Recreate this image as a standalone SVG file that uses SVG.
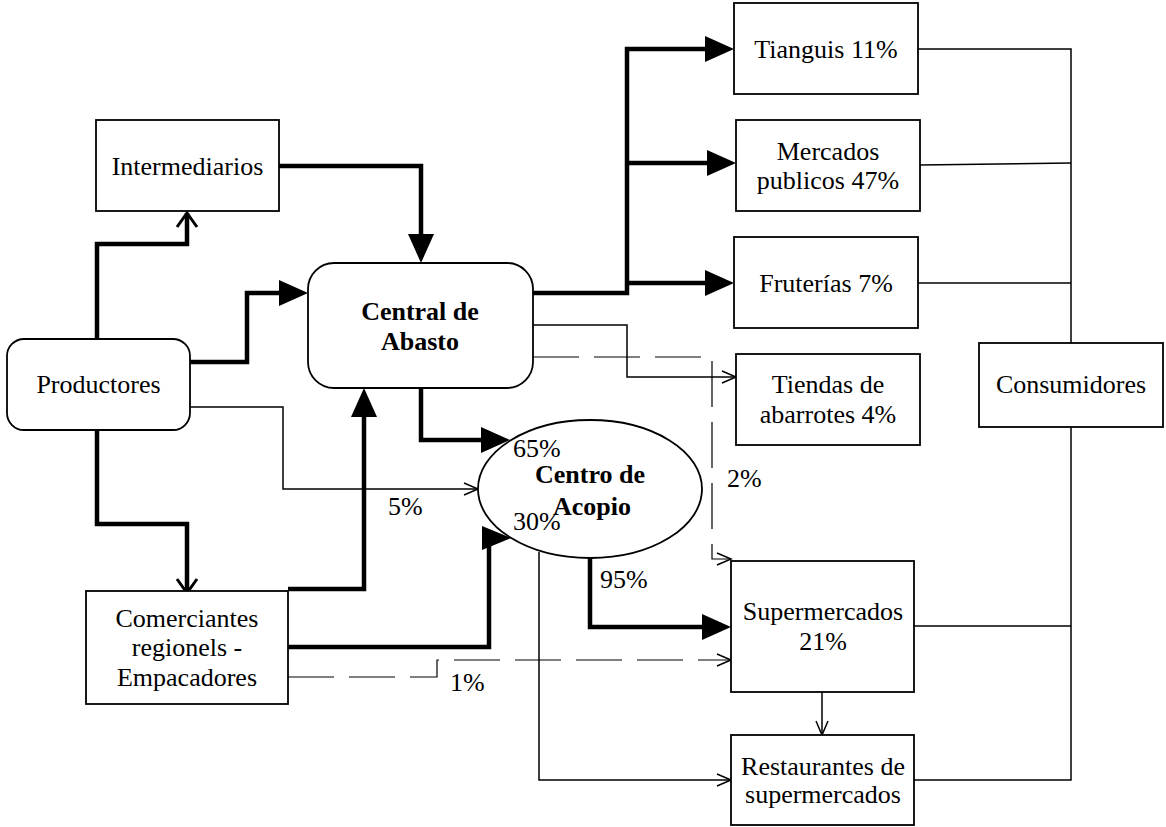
<svg xmlns="http://www.w3.org/2000/svg" width="1166" height="827" viewBox="0 0 1166 827">
<style>
.box{fill:#fff;stroke:#000;stroke-width:1.8}
.t{font-family:"Liberation Serif","Times New Roman",serif;font-size:26px;fill:#000;text-anchor:middle}
.b{font-weight:bold}
.l{font-family:"Liberation Serif","Times New Roman",serif;font-size:26px;fill:#000}
.thick{fill:none;stroke:#000;stroke-width:4.5}
.thin{fill:none;stroke:#000;stroke-width:1.5}
.dash{fill:none;stroke:#000;stroke-width:1.2;stroke-dasharray:46 15}
</style>
<defs>
<marker id="tri" markerUnits="userSpaceOnUse" markerWidth="30" markerHeight="28" refX="0" refY="13" orient="auto" overflow="visible">
<path d="M0,0 L29,13 L0,26 Z" fill="#000"/>
</marker>
<marker id="chevT" markerUnits="userSpaceOnUse" markerWidth="20" markerHeight="24" refX="14" refY="10" orient="auto" overflow="visible">
<path d="M0,0 L14,10 L0,20" fill="none" stroke="#000" stroke-width="3"/>
</marker>
<marker id="chev" markerUnits="userSpaceOnUse" markerWidth="16" markerHeight="14" refX="14" refY="6" orient="auto" overflow="visible">
<path d="M0,0 L14,6 L0,12" fill="none" stroke="#000" stroke-width="1.5"/>
</marker>
</defs>
<g id="connectors">
<path class="thick" d="M97,339 V244 H187 V213" marker-end="url(#chevT)"/>
<path class="thick" d="M190,362 H247 V293 H279" marker-end="url(#tri)"/>
<path class="thick" d="M279,166 H421 V234" marker-end="url(#tri)"/>
<path class="thick" d="M533,293 H627 V49 H705" marker-end="url(#tri)"/>
<path class="thick" d="M627,163 H707" marker-end="url(#tri)"/>
<path class="thick" d="M627,283 H705" marker-end="url(#tri)"/>
<path class="thin" d="M533,325 H627 V377 H736" marker-end="url(#chev)"/>
<path class="dash" d="M533,357 H712 V559 H731" marker-end="url(#chev)"/>
<path class="thin" d="M190,407 H283 V489 H478" marker-end="url(#chev)"/>
<path class="thick" d="M421,388 V440 H481" marker-end="url(#tri)"/>
<path class="thick" d="M97,430 V524 H187 V593" marker-end="url(#chevT)"/>
<path class="thick" d="M288,589 H364 V417" marker-end="url(#tri)"/>
<path class="thick" d="M288,647 H489 V538"/>
<polygon points="482,526 511,538 482,550" fill="#000"/>
<path class="thick" d="M590,558 V627 H702" marker-end="url(#tri)"/>
<path class="thin" d="M539,552 V780 H731" marker-end="url(#chev)"/>
<path class="dash" d="M288,677 H437 V660 H731" marker-end="url(#chev)"/>
<path class="thin" d="M822,692 V735" marker-end="url(#chev)"/>
<path class="thin" d="M918,49 H1071 V780 H914"/>
<path class="thin" d="M920,165 L1071,163"/>
<path class="thin" d="M918,283 H1071"/>
<path class="thin" d="M914,626 H1071"/>
</g>
<g id="intermediarios"><rect class="box" x="96" y="120" width="183" height="91"/><text class="t" x="187.5" y="175">Intermediarios</text></g>
<g id="productores"><rect class="box" x="7" y="339" width="183" height="91" rx="17"/><text class="t" x="98.5" y="393">Productores</text></g>
<g id="central"><rect class="box" x="308" y="263" width="225" height="125" rx="26"/><text class="t b" x="420" y="320">Central de</text><text class="t b" x="420" y="350">Abasto</text></g>
<g id="tianguis"><rect class="box" x="734" y="3" width="184" height="91"/><text class="t" x="826" y="58">Tianguis 11%</text></g>
<g id="mercados"><rect class="box" x="736" y="120" width="184" height="91"/><text class="t" x="828" y="160">Mercados</text><text class="t" x="828" y="189">publicos 47%</text></g>
<g id="fruterias"><rect class="box" x="734" y="237" width="184" height="91"/><text class="t" x="826" y="292">Fruterías 7%</text></g>
<g id="tiendas"><rect class="box" x="736" y="354" width="184" height="91"/><text class="t" x="828" y="393">Tiendas de</text><text class="t" x="828" y="423">abarrotes 4%</text></g>
<g id="consumidores"><rect class="box" x="979" y="343" width="184" height="84"/><text class="t" x="1071" y="393">Consumidores</text></g>
<g id="centro"><ellipse class="box" cx="590" cy="489" rx="112" ry="69"/><text class="t b" x="590" y="483">Centro de</text><text class="t b" x="592" y="515">Acopio</text></g>
<g id="comerciantes"><rect class="box" x="86" y="591" width="202" height="113"/><text class="t" x="187" y="627">Comerciantes</text><text class="t" x="187" y="656">regionels -</text><text class="t" x="187" y="686">Empacadores</text></g>
<g id="supermercados"><rect class="box" x="731" y="561" width="183" height="131"/><text class="t" x="823" y="620">Supermercados</text><text class="t" x="823" y="650">21%</text></g>
<g id="restaurantes"><rect class="box" x="731" y="735" width="183" height="90"/><text class="t" x="823" y="775">Restaurantes de</text><text class="t" x="823" y="803">supermercados</text></g>
<g id="labels">
<text class="l" x="513" y="457">65%</text>
<text class="l" x="513" y="530">30%</text>
<text class="l" x="388" y="515">5%</text>
<text class="l" x="727" y="487">2%</text>
<text class="l" x="600" y="588">95%</text>
<text class="l" x="450" y="691">1%</text>
</g>
</svg>
